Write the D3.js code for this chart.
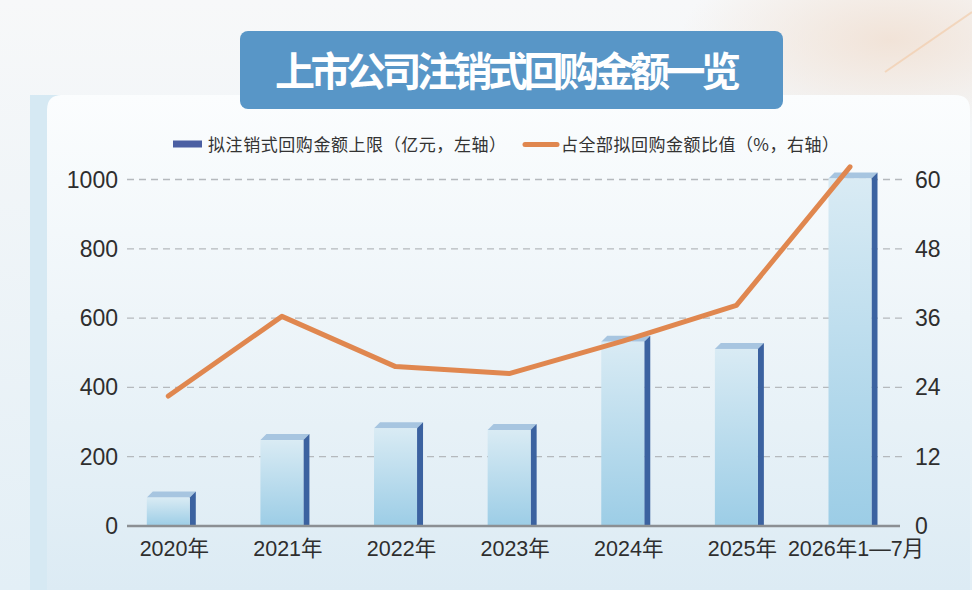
<!DOCTYPE html>
<html><head><meta charset="utf-8">
<script src="https://cdn.jsdelivr.net/npm/d3@7/dist/d3.min.js"></script>
<style>
html,body{margin:0;padding:0;background:#fff;}
svg{display:block;}
</style></head>
<body>
<svg id="c" width="972" height="590"></svg>
<script>
const categories = ["2020年","2021年","2022年","2023年","2024年","2025年","2026年1—7月"];
const amounts = [82, 248, 282, 277, 532, 511, 1003];      // 亿元, left axis
const ratios = [22.5, 36.3, 27.6, 26.4, 32.0, 38.2, 62.2]; // %, right axis
const leftTicks = [0, 200, 400, 600, 800, 1000];
const rightTicks = [0, 12, 24, 36, 48, 60];
const title = "上市公司注销式回购金额一览";
const legendBar = "拟注销式回购金额上限（亿元，左轴）";
const legendLine = "占全部拟回购金额比值（%，右轴）";

const svg = d3.select("#c");
const defs = svg.append("defs");

const bgG = defs.append("linearGradient").attr("id","bg").attr("x1",0).attr("y1",0).attr("x2",0).attr("y2",1);
bgG.append("stop").attr("offset","0").attr("stop-color","#f7f8f9");
bgG.append("stop").attr("offset","1").attr("stop-color","#e3eff6");
const glow = defs.append("radialGradient").attr("id","glow").attr("cx","0.5").attr("cy","0.5").attr("r","0.5");
glow.append("stop").attr("offset","0").attr("stop-color","#f1e2d6").attr("stop-opacity",0.95);
glow.append("stop").attr("offset","1").attr("stop-color","#f1e2d6").attr("stop-opacity",0);
const cardG = defs.append("linearGradient").attr("id","card").attr("x1",0).attr("y1",0).attr("x2",0).attr("y2",1);
cardG.append("stop").attr("offset","0").attr("stop-color","#fbfdfe");
cardG.append("stop").attr("offset","0.45").attr("stop-color","#eef5f9");
cardG.append("stop").attr("offset","1").attr("stop-color","#dcebf4");
const barG = defs.append("linearGradient").attr("id","barFront").attr("x1",0).attr("y1",0).attr("x2",0).attr("y2",1);
barG.append("stop").attr("offset","0").attr("stop-color","#d9ebf4");
barG.append("stop").attr("offset","1").attr("stop-color","#9ccde6");

svg.append("rect").attr("width",972).attr("height",590).attr("fill","url(#bg)");
svg.append("ellipse").attr("cx",890).attr("cy",40).attr("rx",210).attr("ry",95).attr("fill","url(#glow)");
svg.append("line").attr("x1",885).attr("y1",72).attr("x2",972).attr("y2",12)
  .attr("stroke","#f2c9a4").attr("stroke-width",2).attr("opacity",0.6);
svg.append("rect").attr("x",30).attr("y",95).attr("width",30).attr("height",495).attr("fill","#d6e9f3");
svg.append("path").attr("d","M47,590 L47,110 Q47,95 62,95 L955,95 Q970,95 970,110 L970,590 Z")
  .attr("fill","url(#card)");

// title box
svg.append("rect").attr("x",240).attr("y",31).attr("width",543).attr("height",78).attr("rx",8)
  .attr("fill","#5896c7");
svg.append("text").attr("x",508).attr("y",86).attr("text-anchor","middle")
  .attr("font-family","'Noto Sans CJK SC'").attr("font-weight","bold").attr("font-size",40)
  .attr("fill","#fff").attr("textLength",466).attr("lengthAdjust","spacing").text(title);

// scales
const xc = d3.scalePoint().domain(categories).range([168.3, 850]);
const yL = d3.scaleLinear().domain([0,1000]).range([526,179.5]);
const yR = d3.scaleLinear().domain([0,60]).range([526,179.5]);
const bw = 43, side = 6;

// gridlines
svg.append("g").selectAll("line").data(leftTicks.slice(1)).join("line")
  .attr("x1",127).attr("x2",902).attr("y1",d=>yL(d)).attr("y2",d=>yL(d))
  .attr("stroke","#b5b9bd").attr("stroke-width",1.3).attr("stroke-dasharray","7,5");

// bars
const bars = svg.append("g");
categories.forEach((c,i)=>{
  const x0 = xc(c) - bw/2, y0 = yL(amounts[i]), y1 = yL(0);
  bars.append("path").attr("d",`M${x0},${y0} L${x0+side},${y0-side} L${x0+bw+side},${y0-side} L${x0+bw},${y0} Z`)
    .attr("fill","#a7c5e0");
  bars.append("path").attr("d",`M${x0+bw},${y0} L${x0+bw+side},${y0-side} L${x0+bw+side},${y1} L${x0+bw},${y1} Z`)
    .attr("fill","#3b62a0");
  bars.append("rect").attr("x",x0).attr("y",y0).attr("width",bw).attr("height",y1-y0).attr("fill","url(#barFront)");
});

svg.append("line").attr("x1",127).attr("x2",900).attr("y1",526).attr("y2",526)
  .attr("stroke","#8b8f93").attr("stroke-width",2.5);

const line = d3.line().x((d,i)=>xc(categories[i])).y(d=>yR(d));
svg.append("path").datum(ratios).attr("d",line).attr("fill","none")
  .attr("stroke","#e0874f").attr("stroke-width",5).attr("stroke-linejoin","round").attr("stroke-linecap","round");

const fnt = "'Liberation Sans', Arial, sans-serif";
svg.append("g").selectAll("text").data(leftTicks).join("text")
  .attr("x",118).attr("y",d=>yL(d)+8).attr("text-anchor","end")
  .attr("font-family",fnt).attr("font-size",23).attr("fill","#2e2e2e").text(d=>d);
svg.append("g").selectAll("text").data(rightTicks).join("text")
  .attr("x",915).attr("y",d=>yR(d)+8).attr("text-anchor","start")
  .attr("font-family",fnt).attr("font-size",23).attr("fill","#2e2e2e").text(d=>d);
svg.append("g").selectAll("text").data(categories).join("text")
  .attr("x",d=>xc(d)+6).attr("y",556).attr("text-anchor","middle")
  .attr("font-family","'Liberation Sans','Noto Sans CJK SC',sans-serif").attr("font-size",21.5).attr("fill","#2e2e2e")
  .text(d=>d);

// legend
svg.append("rect").attr("x",173).attr("y",140.5).attr("width",29).attr("height",7).attr("fill","#4b5fa3");
svg.append("text").attr("x",208).attr("y",151).attr("font-family","'Noto Sans CJK SC'")
  .attr("font-size",17).attr("fill","#333").attr("textLength",298).text(legendBar);
svg.append("line").attr("x1",525).attr("x2",557).attr("y1",144.5).attr("y2",144.5)
  .attr("stroke","#e0874f").attr("stroke-width",5).attr("stroke-linecap","round");
svg.append("text").attr("x",561).attr("y",151).attr("font-family","'Noto Sans CJK SC'")
  .attr("font-size",17).attr("fill","#333").attr("textLength",278).text(legendLine);
</script>
</body></html>
